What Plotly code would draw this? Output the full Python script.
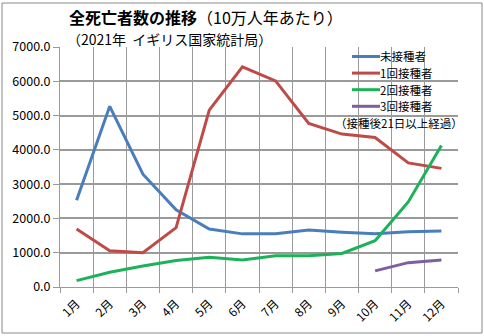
import plotly.graph_objects as go

months = ["1月", "2月", "3月", "4月", "5月", "6月", "7月", "8月", "9月", "10月", "11月", "12月"]
unvaccinated = [2530, 5270, 3290, 2250, 1690, 1550, 1550, 1660, 1600, 1550, 1610, 1630]
dose1 = [1690, 1060, 1000, 1730, 5160, 6420, 6010, 4770, 4460, 4360, 3620, 3460]
dose2 = [185, 430, 610, 770, 865, 790, 910, 910, 980, 1350, 2480, 4130]
dose3_months = ["10月", "11月", "12月"]
dose3 = [470, 710, 790]
names = ["未接種者", "1回接種者", "2回接種者", "3回接種者"]
colors = ["#4A7EBB", "#BE4B48", "#1DB25A", "#7D5FA0"]
legend_note = "（接種後21日以上経過）"

FONT = "Noto Sans CJK JP"
fig = go.Figure()
series = [(months, unvaccinated), (months, dose1), (months, dose2), (dose3_months, dose3)]
for (xs, ys), n, c in zip(series, names, colors):
    fig.add_trace(go.Scatter(x=xs, y=ys, name=n, mode="lines",
                             line=dict(color=c, width=3), showlegend=False))

W, H = 484, 336
L, R, T, B = 60, 26, 47, 49
pw, ph = W - L - R, H - T - B
def px(x): return (x - L) / pw
def py(y): return (H - B - y) / ph

shapes = [
    # white area under legend (hides gridlines)
    dict(type="rect", xref="paper", yref="paper", x0=px(336), x1=px(457), y0=py(130), y1=py(48),
         fillcolor="white", line=dict(width=0), layer="between"),
    # outer frame
    dict(type="rect", xref="paper", yref="paper", x0=px(2), x1=px(482), y0=py(333), y1=py(3),
         line=dict(color="#8a8a8a", width=1), fillcolor="rgba(0,0,0,0)"),
]

annotations = [
    dict(xref="paper", yref="paper", x=px(68), y=py(17), xanchor="left", yanchor="middle",
         showarrow=False, borderpad=0,
         text="<b>全死亡者数の推移</b>（10万人年あたり）",
         font=dict(family=FONT, size=16, color="#000")),
    dict(xref="paper", yref="paper", x=px(66), y=py(39), xanchor="left", yanchor="middle",
         showarrow=False, text="（2021年  イギリス国家統計局）", borderpad=0,
         font=dict(family=FONT, size=14, color="#000")),
]

leg_y = [56.5, 73.1, 89.7, 106.3]
FS = 11.5
for n, c, yy in zip(names, colors, leg_y):
    shapes.append(dict(type="line", xref="paper", yref="paper", x0=px(352), x1=px(380),
                       y0=py(yy), y1=py(yy), line=dict(color=c, width=3)))
    annotations.append(dict(xref="paper", yref="paper", x=px(379), y=py(yy), xanchor="left",
                            yanchor="middle", showarrow=False, text=n, borderpad=0,
                            font=dict(family=FONT, size=FS, color="#000")))
annotations.append(dict(xref="paper", yref="paper", x=px(334), y=py(122.9), xanchor="left",
                        yanchor="middle", showarrow=False, text=legend_note, borderpad=0,
                        font=dict(family=FONT, size=FS, color="#000")))

fig.update_layout(
    width=W, height=H,
    margin=dict(l=L, r=R, t=T, b=B),
    paper_bgcolor="white", plot_bgcolor="white",
    font=dict(family=FONT, size=12, color="#000"),
    showlegend=False,
    shapes=shapes, annotations=annotations,
    xaxis=dict(type="category", categoryorder="array", categoryarray=months,
               tickson="boundaries", showgrid=True, gridcolor="#9a9a9a", gridwidth=1,
               showline=True, linecolor="#9a9a9a", linewidth=1,
               ticks="outside", ticklen=5, tickcolor="#9a9a9a",
               tickangle=-45, tickfont=dict(family=FONT, size=12), ticklabelstandoff=4,
               range=[-0.5, 11.5], fixedrange=True),
    yaxis=dict(range=[0, 7000], dtick=1000, tickformat=".1f",
               showgrid=True, gridcolor="#9a9a9a", gridwidth=1.5,
               showline=True, linecolor="#9a9a9a", linewidth=1,
               ticks="outside", ticklen=6, tickcolor="#9a9a9a",
               tickfont=dict(family=FONT, size=12.5), zeroline=False, fixedrange=True),
)

fig.write_html("out.html")
